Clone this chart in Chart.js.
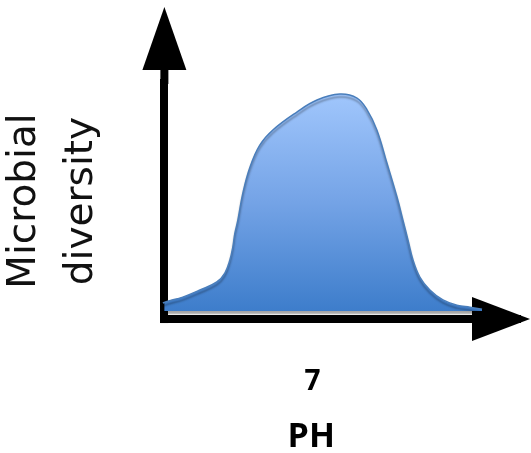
<!DOCTYPE html>
<html>
<head>
<meta charset="utf-8">
<script src="https://cdn.jsdelivr.net/npm/chart.js@4"></script>
<style>
  body { margin: 0; background: #fff; }
  #wrap { width: 531px; height: 453px; position: relative; }
</style>
</head>
<body>
<div id="wrap"><canvas id="phChart"></canvas></div>

<script>
// data (pH on x, diversity on y, arbitrary units)
var phValues = [1.78, 1.95, 2.62, 3.20, 3.77, 4.04, 4.21, 4.31, 4.38, 4.48, 4.65, 4.89, 5.22, 5.66, 6.47, 7.15,
                7.92, 8.50, 8.84, 9.17, 9.51, 9.85, 10.05, 10.22, 10.39, 10.62, 10.96, 11.40, 11.87, 12.31, 12.72];
var diversityValues = [0.42, 0.68, 0.93, 1.23, 1.57, 1.95, 2.50, 3.05, 3.64, 4.19, 5.34, 6.44, 7.37, 8.01, 8.77, 9.28,
                       9.53, 9.36, 8.86, 8.01, 6.61, 5.17, 4.19, 3.35, 2.50, 1.78, 1.23, 0.81, 0.59, 0.50, 0.42];
var xTickValues = [7];
var xTitle = 'PH\u00a0\u00a0\u00a0\u00a0\u00a0\u00a0\u00a0';
var yTitle = ['Microbial', 'diversity'];
var fillBase = 0.34;

var points = [];
for (var i = 0; i < phValues.length; i++) {
	points.push({ x: phValues[i], y: diversityValues[i] });
}

function blueGradient(context) {
	var chart = context.chart;
	if (!chart.chartArea) return '#6d9fe3';
	var y = chart.scales.y;
	var g = chart.ctx.createLinearGradient(0, y.getPixelForValue(Math.max.apply(null, diversityValues)), 0, y.getPixelForValue(fillBase));
	g.addColorStop(0, '#a0c6fc');
	g.addColorStop(0.5, '#74a3e6');
	g.addColorStop(1, '#3d7dcb');
	return g;
}

// arrow heads + shaft extension, drawn under the dataset
var arrowPlugin = {
	id: 'arrows',
	beforeDatasetsDraw: function(chart) {
		var ctx = chart.ctx;
		var a = chart.chartArea;
		var w = 8;
		ctx.save();
		ctx.fillStyle = '#000';
		// vertical shaft up to the head, and the corner
		ctx.fillRect(a.left - w / 2, 68, w, a.top - 68 + 1);
		ctx.fillRect(a.left - w / 2, a.bottom - w / 2, w, w);
		// top head
		ctx.beginPath();
		ctx.moveTo(a.left, 7);
		ctx.lineTo(a.left + 22, 70);
		ctx.lineTo(a.left - 22, 70);
		ctx.closePath();
		ctx.fill();
		// right head
		ctx.beginPath();
		ctx.moveTo(chart.width - 1, a.bottom);
		ctx.lineTo(472, a.bottom - 22);
		ctx.lineTo(472, a.bottom + 22);
		ctx.closePath();
		ctx.fill();
		ctx.restore();

		ctx.save();
		ctx.shadowColor = 'rgba(0,0,0,0.35)';
		ctx.shadowOffsetY = 3;
		ctx.shadowBlur = 2;
	},
	afterDatasetsDraw: function(chart) {
		chart.ctx.restore();
	}
};

var ctx = document.getElementById('phChart').getContext('2d');
var myChart = new Chart(ctx, {
	type: 'line',
	data: {
		datasets: [{
			data: points,
			borderColor: '#4a7ebb',
			borderWidth: 1.5,
			backgroundColor: blueGradient,
			fill: { value: fillBase },
			tension: 0.4,
			pointRadius: 0,
			clip: false
		}]
	},
	options: {
		responsive: true,
		maintainAspectRatio: false,
		animation: false,
		layout: { padding: { top: 83, right: 11, bottom: 0, left: 0 } },
		plugins: {
			legend: { display: false },
			tooltip: { enabled: false }
		},
		scales: {
			x: {
				type: 'linear',
				min: 2,
				max: 14,
				afterBuildTicks: function(scale) {
					scale.ticks = xTickValues.map(function(v) { return { value: v }; });
				},
				grid: { display: false, drawTicks: false },
				border: { display: true, color: '#000', width: 8 },
				ticks: {
					color: '#000',
					padding: 46,
					maxRotation: 0,
					font: { family: 'Open Sans', size: 28, weight: 'bold', lineHeight: 1.2 }
				},
				title: {
					display: true,
					text: xTitle,
					color: '#000',
					padding: { top: -23.6, bottom: 0 },
					font: { family: 'Open Sans', size: 34, weight: 'bold', lineHeight: 0.94 }
				}
			},
			y: {
				min: 0,
				max: 10,
				grid: { display: false, drawTicks: false },
				border: { display: true, color: '#000', width: 8 },
				ticks: { display: false },
				title: {
					display: true,
					text: yTitle,
					color: '#111',
					padding: { top: -4, bottom: 54.5 },
					font: { family: 'DejaVu Sans', size: 39, weight: 'normal', lineHeight: 1.46 }
				}
			}
		}
	},
	plugins: [arrowPlugin]
});
</script>
</body>
</html>
